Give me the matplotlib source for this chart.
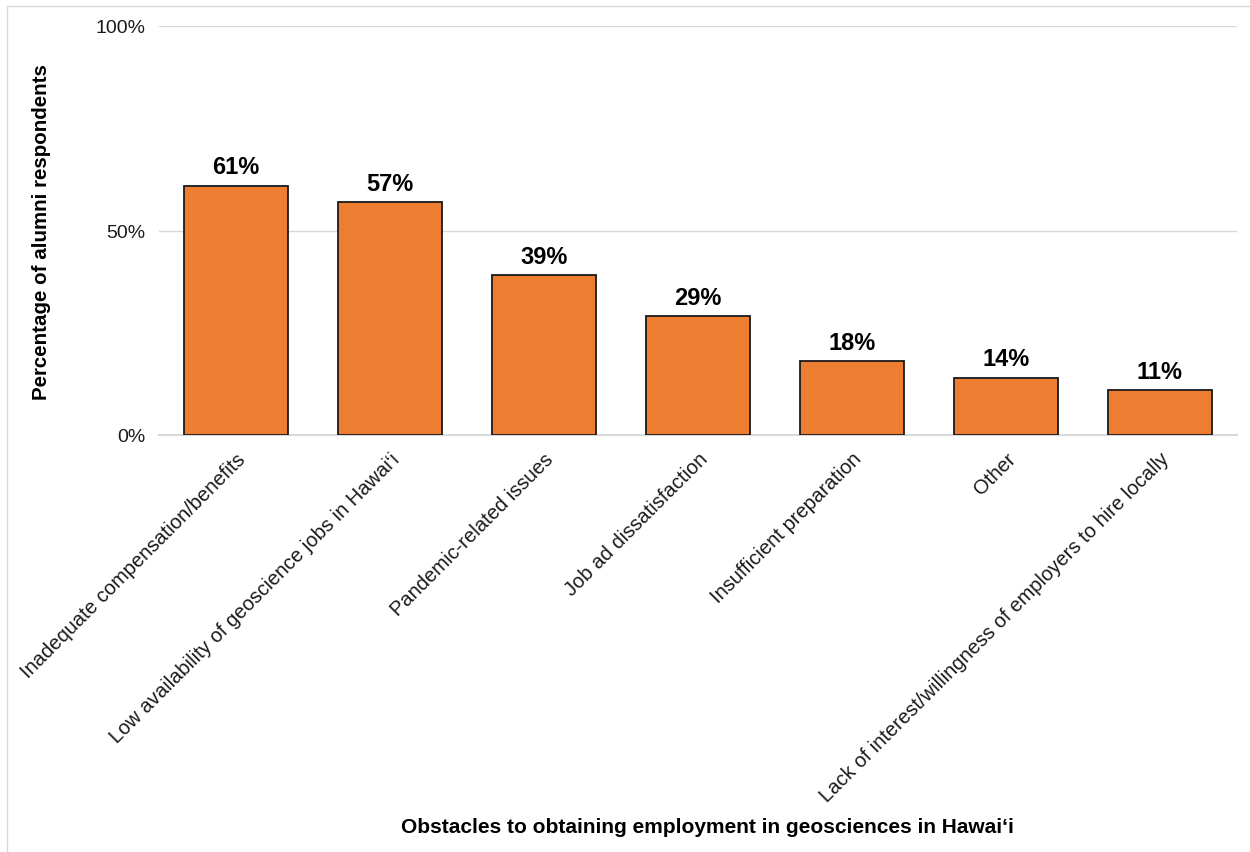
import matplotlib
matplotlib.use("Agg")
import matplotlib.pyplot as plt
from matplotlib.patches import Rectangle
from matplotlib.ticker import FuncFormatter

plt.rcParams['font.family'] = ['Liberation Sans', 'DejaVu Sans']

categories = [
    "Inadequate compensation/benefits",
    "Low availability of geoscience jobs in Hawai\u2018i",
    "Pandemic-related issues",
    "Job ad dissatisfaction",
    "Insufficient preparation",
    "Other",
    "Lack of interest/willingness of employers to hire locally",
]
percentages = [61, 57, 39, 29, 18, 14, 11]
y_ticks = [0, 50, 100]

fig = plt.figure(figsize=(12.5, 8.53), dpi=100)
ax = fig.add_axes([159 / 1250, 1 - 436 / 853, (1237 - 159) / 1250, (436 - 27) / 853])

x = list(range(len(categories)))
ax.bar(x, percentages, width=0.675, color="#ED7D31", edgecolor="#1a1a1a",
       linewidth=1.3, zorder=3)
for xi, v in zip(x, percentages):
    ax.text(xi, v + 1.8, f"{v}%", ha="center", va="bottom", fontsize=17,
            fontweight="bold", color="black")

ax.set_xlim(-0.5, len(categories) - 0.5)
ax.set_ylim(0, 100)
ax.set_yticks(y_ticks)
ax.yaxis.set_major_formatter(FuncFormatter(lambda v, p: f"{v:.0f}%"))
ax.grid(axis="y", color="#d9d9d9", linewidth=1, zorder=0)
ax.axhline(0, color="#d9d9d9", linewidth=1.5, zorder=2, clip_on=False)
for s in ["top", "right", "left", "bottom"]:
    ax.spines[s].set_visible(False)
ax.tick_params(axis="both", length=0, labelsize=14, colors="#1a1a1a")
ax.tick_params(axis="y", pad=10)
ax.set_xticks(x)
ax.set_xticklabels(categories, rotation=45, ha="right", rotation_mode="anchor",
                   fontsize=14.5)
ax.tick_params(axis="x", pad=10)

fig.text(42 / 1250, 1 - 232 / 853, "Percentage of alumni respondents", rotation=90,
         ha="center", va="center", fontsize=14.8, fontweight="bold")
fig.text(707 / 1250, 1 - 828 / 853,
         "Obstacles to obtaining employment in geosciences in Hawai\u2018i",
         ha="center", va="center", fontsize=15, fontweight="bold")

fig.patches.append(Rectangle((7 / 1250, -0.01), 1.1, 1 - 7 / 853 + 0.01,
                             transform=fig.transFigure, fill=False,
                             edgecolor="#d9d9d9", linewidth=1))

fig.savefig("out.png", dpi=100)
